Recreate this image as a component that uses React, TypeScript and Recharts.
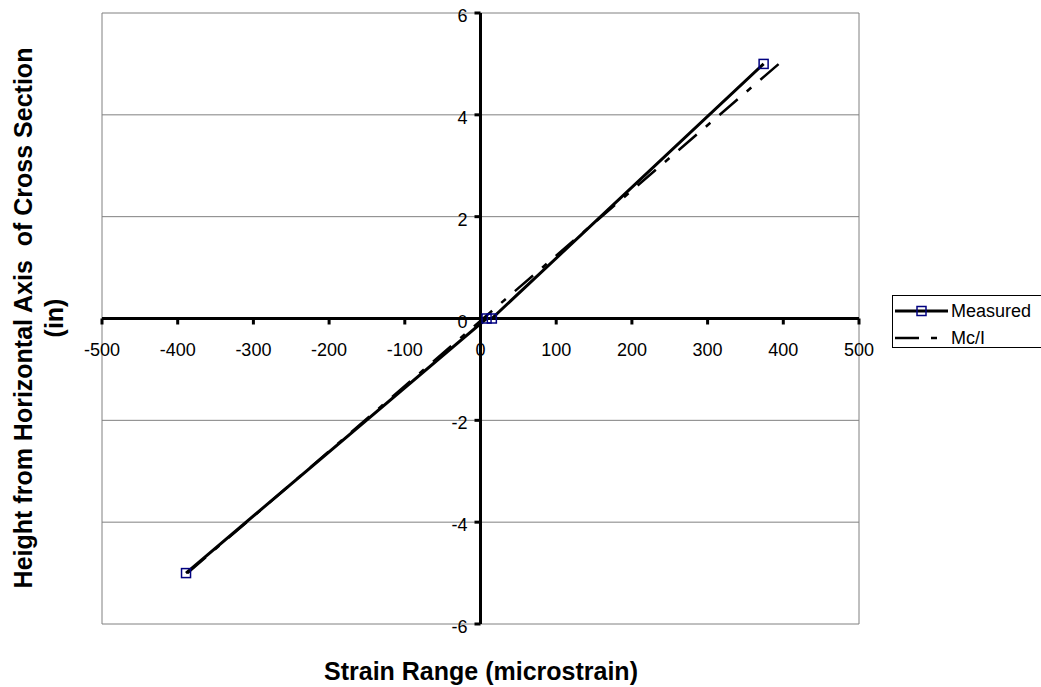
import { ScatterChart, Scatter, XAxis, YAxis, ReferenceLine, ReferenceDot } from "recharts";

const FONT = '"Liberation Sans", Arial, sans-serif';

// strain range (microstrain) vs height from horizontal axis (in)
const measuredStrain = [-389, 8, 15, 374];
const measuredHeight = [-5, 0, 0, 5];
const mcStrain = [-387, 394];
const mcHeight = [-5, 5];

const xTicks = [-500, -400, -300, -200, -100, 0, 100, 200, 300, 400, 500];
const yTicks = [-6, -4, -2, 0, 2, 4, 6];

const measured = measuredStrain.map((x, i) => ({ x, y: measuredHeight[i] }));
const mcI = mcStrain.map((x, i) => ({ x, y: mcHeight[i] }));

const Square = (p: any) => (
  <rect x={p.cx - 4.5} y={p.cy - 4.5} width={9} height={9} fill="none" stroke="#000080" strokeWidth={1.5} />
);

const xTick = (t: number) => (p: any) => (
  <g>
    <line x1={p.cx} y1={p.cy} x2={p.cx} y2={p.cy + 6} stroke="#000" strokeWidth={3} />
    <text x={p.cx} y={p.cy + 37} textAnchor="middle" fontSize={18} fontFamily={FONT} fill="#000">
      {t}
    </text>
  </g>
);

const yTick = (t: number) => (p: any) => (
  <g>
    <line x1={p.cx - 6} y1={p.cy} x2={p.cx} y2={p.cy} stroke="#000" strokeWidth={3} />
    <text x={p.cx - 13} y={p.cy + 9} textAnchor="end" fontSize={18} fontFamily={FONT} fill="#000">
      {t}
    </text>
  </g>
);

function LegendBox() {
  return (
    <div
      style={{
        position: "absolute",
        left: 892,
        top: 295,
        width: 160,
        height: 53,
        border: "1px solid #000",
        background: "#fff",
        boxSizing: "border-box",
      }}
    >
      <svg width={160} height={53} style={{ display: "block" }}>
        <line x1={2} y1={15} x2={55} y2={15} stroke="#000" strokeWidth={3} />
        <rect x={24} y={10.5} width={9} height={9} fill="none" stroke="#000080" strokeWidth={1.5} />
        <text x={58} y={21} fontSize={18} fontFamily={FONT}>Measured</text>
        <line x1={2} y1={42} x2={55} y2={42} stroke="#000" strokeWidth={2.5} strokeDasharray="24 12 6 12" />
        <text x={58} y={48} fontSize={18} fontFamily={FONT}>Mc/I</text>
      </svg>
    </div>
  );
}

export default function App() {
  return (
    <div style={{ position: "absolute", left: 0, top: 0, width: 1041, height: 687, background: "#fff", overflow: "hidden" }}>
      <ScatterChart width={1041} height={687} margin={{ top: 13, right: 182, bottom: 63, left: 102 }}>
        <XAxis type="number" dataKey="x" domain={[-500, 500]} ticks={xTicks} hide />
        <YAxis type="number" dataKey="y" domain={[-6, 6]} ticks={yTicks} hide />
        {yTicks.map((t) => (
          <ReferenceLine key={"g" + t} y={t} stroke="#808080" strokeWidth={1} ifOverflow="visible" />
        ))}
        <ReferenceLine x={-500} stroke="#808080" strokeWidth={1} ifOverflow="visible" />
        <ReferenceLine x={500} stroke="#808080" strokeWidth={1} ifOverflow="visible" />
        <ReferenceLine x={0} stroke="#000" strokeWidth={3} ifOverflow="visible" />
        <ReferenceLine y={0} stroke="#000" strokeWidth={3} ifOverflow="visible" />
        {xTicks.map((t) => (
          <ReferenceDot key={"xt" + t} x={t} y={0} r={0} ifOverflow="visible" shape={xTick(t)} />
        ))}
        {yTicks.map((t) => (
          <ReferenceDot key={"yt" + t} x={0} y={t} r={0} ifOverflow="visible" shape={yTick(t)} />
        ))}
        <Scatter
          name="Mc/I"
          data={mcI}
          line={{ stroke: "#000", strokeWidth: 2.5, strokeDasharray: "24 12 6 12" }}
          shape={() => <g />}
          isAnimationActive={false}
        />
        <Scatter
          name="Measured"
          data={measured}
          line={{ stroke: "#000", strokeWidth: 3 }}
          shape={Square}
          isAnimationActive={false}
        />
      </ScatterChart>
      <LegendBox />
      <svg width={1041} height={687} style={{ position: "absolute", left: 0, top: 0, pointerEvents: "none" }}>
        <text x={481} y={680} textAnchor="middle" fontSize={25} fontWeight="bold" fontFamily={FONT}>
          Strain Range (microstrain)
        </text>
        <text
          transform="translate(32,318) rotate(-90)"
          textAnchor="middle"
          fontSize={25}
          fontWeight="bold"
          fontFamily={FONT}
          style={{ whiteSpace: "pre" }}
        >
          Height from Horizontal Axis  of Cross Section
        </text>
        <text transform="translate(63,318) rotate(-90)" textAnchor="middle" fontSize={25} fontWeight="bold" fontFamily={FONT}>
          (in)
        </text>
      </svg>
    </div>
  );
}
